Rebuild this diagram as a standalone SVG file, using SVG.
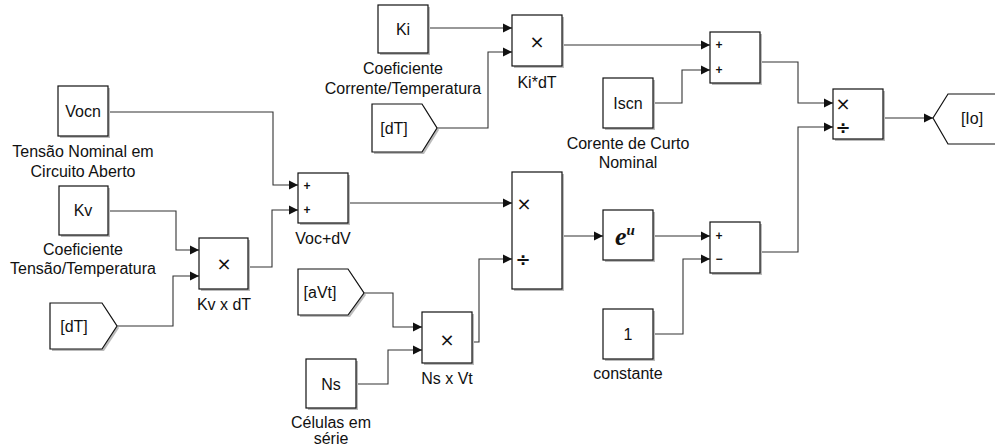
<svg xmlns="http://www.w3.org/2000/svg" width="995" height="448" viewBox="0 0 995 448">
<style>
.blk{fill:#fff;stroke:#111;stroke-width:1.2}
.sh{fill:#bbb;stroke:none}
.t{font-family:"Liberation Sans",Arial,sans-serif;font-size:16px;fill:#111;text-anchor:middle;dominant-baseline:central}
.sym{font-family:"DejaVu Sans","Liberation Sans",sans-serif;font-size:18px;fill:#111;text-anchor:middle;dominant-baseline:central}
.pm{font-family:"Liberation Sans",Arial,sans-serif;font-size:12px;font-weight:bold;fill:#111;text-anchor:middle;dominant-baseline:central}
.ln{fill:none;stroke:#333;stroke-width:1.1}
</style>
<defs>
<marker id="ar" markerWidth="10" markerHeight="10" refX="9" refY="5" orient="auto" markerUnits="userSpaceOnUse">
<path d="M0,0.5 L9,5 L0,9.5 Z" fill="#111"/>
</marker>
</defs>
<rect width="995" height="448" fill="#fff"/>

<g id="connectors">
<path class="ln" marker-end="url(#ar)" d="M428,28 H512"/>
<path class="ln" marker-end="url(#ar)" d="M437,128 H488 V52 H512"/>
<path class="ln" marker-end="url(#ar)" d="M562,45 H710"/>
<path class="ln" marker-end="url(#ar)" d="M653,103 H682 V70 H710"/>
<path class="ln" marker-end="url(#ar)" d="M760,62 H798 V103 H833"/>
<path class="ln" marker-end="url(#ar)" d="M760,252 H798 V127 H833"/>
<path class="ln" marker-end="url(#ar)" d="M883,118 H933"/>
<path class="ln" marker-end="url(#ar)" d="M108,112 H273 V185 H298"/>
<path class="ln" marker-end="url(#ar)" d="M108,211 H176 V250 H199"/>
<path class="ln" marker-end="url(#ar)" d="M117,326 H173 V276 H199"/>
<path class="ln" marker-end="url(#ar)" d="M248,267 H272 V210 H298"/>
<path class="ln" marker-end="url(#ar)" d="M348,203 H512"/>
<path class="ln" marker-end="url(#ar)" d="M364,293 H393 V327 H422"/>
<path class="ln" marker-end="url(#ar)" d="M356,384 H388 V350 H422"/>
<path class="ln" marker-end="url(#ar)" d="M472,342 H479 V259 H512"/>
<path class="ln" marker-end="url(#ar)" d="M562,236 H603"/>
<path class="ln" marker-end="url(#ar)" d="M653,236 H710"/>
<path class="ln" marker-end="url(#ar)" d="M653,334 H683 V259 H710"/>
</g>

<g id="Ki">
<rect class="sh" x="380" y="7" width="50" height="48"/>
<rect class="blk" x="378" y="5" width="50" height="48"/>
<text class="t" x="403" y="29">Ki</text>
<text class="t" x="403" y="68">Coeficiente</text>
<text class="t" x="403" y="88">Corrente/Temperatura</text>
</g>

<g id="dT_top">
<path class="sh" d="M374,106 H424 L439,130 L424,154 H374 Z"/>
<path class="blk" d="M372,104 H422 L437,128 L422,152 H372 Z"/>
<text class="t" x="394" y="128">[dT]</text>
</g>

<g id="KidT">
<rect class="sh" x="514" y="17" width="50" height="51"/>
<rect class="blk" x="512" y="15" width="50" height="51"/>
<text class="sym" x="537" y="41">×</text>
<text class="t" x="537" y="82">Ki*dT</text>
</g>

<g id="Add1">
<rect class="sh" x="712" y="34" width="50" height="51"/>
<rect class="blk" x="710" y="32" width="50" height="51"/>
<text class="pm" x="719" y="45">+</text>
<text class="pm" x="719" y="70">+</text>
</g>

<g id="Iscn">
<rect class="sh" x="605" y="80" width="50" height="50"/>
<rect class="blk" x="603" y="78" width="50" height="50"/>
<text class="t" x="628" y="103">Iscn</text>
<text class="t" x="628" y="143">Corente de Curto</text>
<text class="t" x="628" y="162">Nominal</text>
</g>

<g id="Div2">
<rect class="sh" x="835" y="91" width="50" height="50"/>
<rect class="blk" x="833" y="89" width="50" height="50"/>
<text class="sym" x="843" y="103">×</text>
<text class="sym" x="843" y="127" font-weight="bold">÷</text>
</g>

<g id="Io">
<path class="blk" d="M1000,94 H948 L933,118 L948,144 H1000"/>
<text class="t" x="972" y="118">[Io]</text>
</g>

<g id="Vocn">
<rect class="sh" x="60" y="88" width="50" height="50"/>
<rect class="blk" x="58" y="86" width="50" height="50"/>
<text class="t" x="83" y="111">Vocn</text>
<text class="t" x="83" y="151">Tensão Nominal em</text>
<text class="t" x="83" y="171">Circuito Aberto</text>
</g>

<g id="Kv">
<rect class="sh" x="61" y="188" width="49" height="49"/>
<rect class="blk" x="59" y="186" width="49" height="49"/>
<text class="t" x="83" y="210">Kv</text>
<text class="t" x="83" y="249">Coeficiente</text>
<text class="t" x="83" y="268">Tensão/Temperatura</text>
</g>

<g id="KvdT">
<rect class="sh" x="201" y="240" width="49" height="51"/>
<rect class="blk" x="199" y="238" width="49" height="51"/>
<text class="sym" x="224" y="263">×</text>
<text class="t" x="224" y="304">Kv x dT</text>
</g>

<g id="dT_bottom">
<path class="sh" d="M52,305 H104 L119,328 L104,351 H52 Z"/>
<path class="blk" d="M50,303 H102 L117,326 L102,349 H50 Z"/>
<text class="t" x="74" y="326">[dT]</text>
</g>

<g id="VocdV">
<rect class="sh" x="300" y="175" width="50" height="50"/>
<rect class="blk" x="298" y="173" width="50" height="50"/>
<text class="pm" x="307" y="186">+</text>
<text class="pm" x="307" y="210">+</text>
<text class="t" x="323" y="238">Voc+dV</text>
</g>

<g id="Div1">
<rect class="sh" x="514" y="174" width="50" height="117"/>
<rect class="blk" x="512" y="172" width="50" height="117"/>
<text class="sym" x="524" y="203">×</text>
<text class="sym" x="523" y="259" font-weight="bold">÷</text>
</g>

<g id="exp">
<rect class="sh" x="605" y="212" width="50" height="50"/>
<rect class="blk" x="603" y="210" width="50" height="50"/>
<text x="625" y="245" font-family="Liberation Serif,serif" font-size="26" font-weight="bold" font-style="italic" fill="#111" text-anchor="middle">e<tspan font-size="15" dy="-10">u</tspan></text>
</g>

<g id="Sub">
<rect class="sh" x="712" y="224" width="50" height="51"/>
<rect class="blk" x="710" y="222" width="50" height="51"/>
<text class="pm" x="719" y="236">+</text>
<text class="pm" x="719" y="259">−</text>
</g>

<g id="const1">
<rect class="sh" x="605" y="311" width="50" height="50"/>
<rect class="blk" x="603" y="309" width="50" height="50"/>
<text class="t" x="628" y="334">1</text>
<text class="t" x="628" y="373">constante</text>
</g>

<g id="aVt">
<path class="sh" d="M300,271 H350 L366,295 L350,317 H300 Z"/>
<path class="blk" d="M298,269 H348 L364,293 L348,315 H298 Z"/>
<text class="t" x="320" y="292">[aVt]</text>
</g>

<g id="NsVt">
<rect class="sh" x="424" y="314" width="50" height="51"/>
<rect class="blk" x="422" y="312" width="50" height="51"/>
<text class="sym" x="447" y="339">×</text>
<text class="t" x="447" y="378">Ns x Vt</text>
</g>

<g id="Ns">
<rect class="sh" x="308" y="361" width="50" height="49"/>
<rect class="blk" x="306" y="359" width="50" height="49"/>
<text class="t" x="331" y="384">Ns</text>
<text class="t" x="331" y="422">Células em</text>
<text class="t" x="331" y="438">série</text>
</g>
</svg>
